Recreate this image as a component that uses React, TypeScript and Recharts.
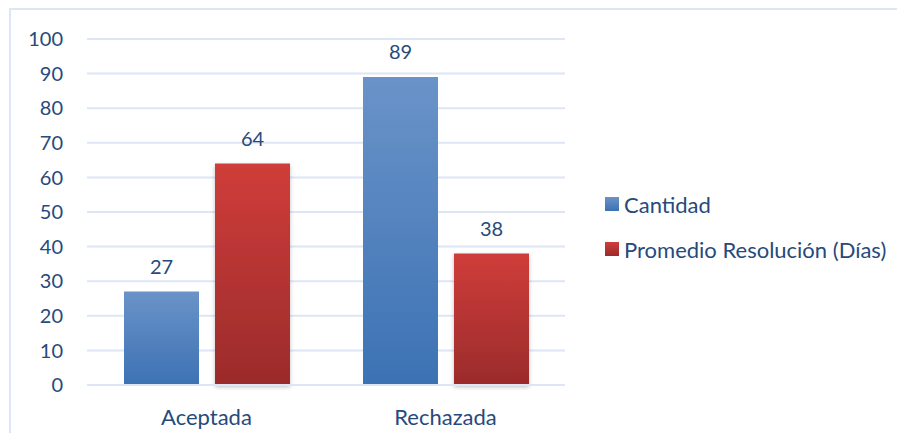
import React from "react";
import { BarChart, Bar, XAxis, YAxis, CartesianGrid, LabelList } from "recharts";

const categories = ["Aceptada", "Rechazada"];
const cantidad = [27, 89];
const promedio = [64, 38];
const yTicks = [0, 10, 20, 30, 40, 50, 60, 70, 80, 90, 100];
const seriesNames = ["Cantidad", "Promedio Resolución (Días)"];

const data = categories.map((c, i) => ({ name: c, cantidad: cantidad[i], promedio: promedio[i] }));

const TEXT = "#264A7C";
const FONT = "Lato, 'Open Sans', sans-serif";

const LegendBox = () => (
  <div style={{ position: "absolute", left: 605, top: 191, fontFamily: FONT, fontSize: 22, color: TEXT }}>
    {seriesNames.map((n, i) => (
      <div key={n} style={{ display: "flex", alignItems: "center", height: 26, marginBottom: i === 0 ? 19 : 0 }}>
        <div
          style={{
            width: 14,
            height: 14,
            marginRight: 5,
            background: i === 0 ? "linear-gradient(#6A93C8,#3C72B4)" : "linear-gradient(#CF3D3A,#9B2B2B)",
          }}
        />
        <span style={{ whiteSpace: "nowrap" }}>{n}</span>
      </div>
    ))}
  </div>
);

export default function App() {
  return (
    <div style={{ position: "relative", width: 905, height: 441, margin: -8, overflow: "hidden", background: "#fff" }}>
      <div
        style={{
          position: "absolute",
          left: 9,
          top: 8,
          width: 1200,
          height: 1200,
          borderTop: "2px solid #DCE6F5",
          borderLeft: "2px solid #DCE6F5",
        }}
      />
      <div style={{ position: "absolute", left: 0, top: 0 }}>
        <BarChart
          width={905}
          height={441}
          data={data}
          margin={{ top: 39, right: 340, bottom: 26, left: 0 }}
          barSize={75}
          barGap={16}
        >
          <defs>
            <linearGradient id="gBlue" x1="0" y1="0" x2="0" y2="1">
              <stop offset="0%" stopColor="#6A93C8" />
              <stop offset="100%" stopColor="#3C72B4" />
            </linearGradient>
            <linearGradient id="gRed" x1="0" y1="0" x2="0" y2="1">
              <stop offset="0%" stopColor="#CF3D3A" />
              <stop offset="100%" stopColor="#9B2B2B" />
            </linearGradient>
            <filter id="shadow" x="-20%" y="-5%" width="140%" height="115%">
              <feDropShadow dx="0" dy="2" stdDeviation="2" floodColor="#000" floodOpacity="0.25" />
            </filter>
          </defs>
          <CartesianGrid vertical={false} stroke="#DCE6F5" strokeWidth={2} />
          <XAxis
            dataKey="name"
            height={30}
            axisLine={{ stroke: "#DCE6F5", strokeWidth: 2 }}
            tickLine={false}
            tickSize={0}
            tickMargin={24}
            tick={{ fill: TEXT, fontSize: 22, fontFamily: FONT }}
          />
          <YAxis
            width={87}
            domain={[0, 100]}
            ticks={yTicks}
            interval={0}
            axisLine={false}
            tickLine={false}
            tickSize={0}
            tickMargin={24}
            tick={{ fill: TEXT, fontSize: 20, fontFamily: FONT }}
          />
          <Bar dataKey="cantidad" name={seriesNames[0]} fill="url(#gBlue)" isAnimationActive={false}>
            <LabelList dataKey="cantidad" position="top" offset={18} fill={TEXT} fontSize={20} fontFamily={FONT} />
          </Bar>
          <Bar dataKey="promedio" name={seriesNames[1]} fill="url(#gRed)" filter="url(#shadow)" isAnimationActive={false}>
            <LabelList dataKey="promedio" position="top" offset={18} fill={TEXT} fontSize={20} fontFamily={FONT} />
          </Bar>
        </BarChart>
      </div>
      <LegendBox />
    </div>
  );
}
